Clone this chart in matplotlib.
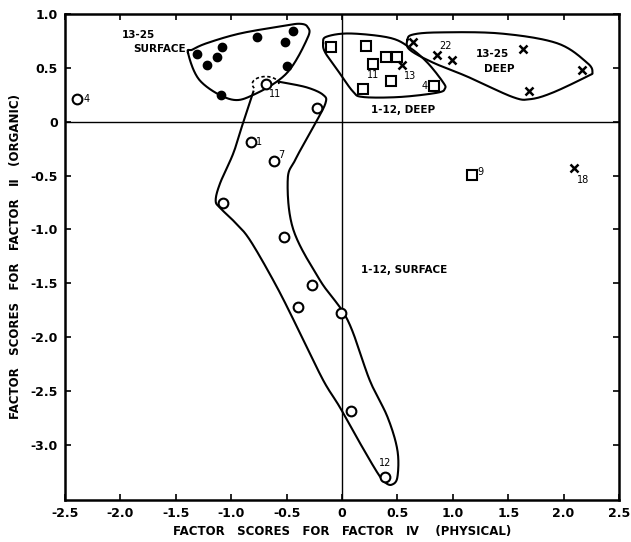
import numpy as np
import matplotlib
matplotlib.use("Agg")
import matplotlib.pyplot as plt
from matplotlib.patches import Arc

# ---- data ----
surf_13_25_x = [-1.31, -1.22, -1.13, -1.08, -0.77, -0.44, -0.51, -0.50, -1.09]
surf_13_25_y = [0.63, 0.53, 0.60, 0.69, 0.79, 0.84, 0.74, 0.52, 0.25]

surf_1_12_x = [-2.39, -0.69, -0.23, -0.82, -0.61, -1.07, -0.52, -0.27, -0.40, -0.01, 0.08, 0.39]
surf_1_12_y = [0.21, 0.35, 0.13, -0.19, -0.36, -0.75, -1.07, -1.52, -1.72, -1.78, -2.69, -3.30]

deep_1_12_x = [-0.10, 0.22, 0.40, 0.50, 0.28, 0.44, 0.19, 0.83, 1.17]
deep_1_12_y = [0.69, 0.70, 0.60, 0.60, 0.54, 0.38, 0.30, 0.33, -0.49]

deep_13_25_x = [0.64, 0.86, 0.99, 1.63, 2.17, 1.69, 0.54, 2.09]
deep_13_25_y = [0.74, 0.62, 0.57, 0.68, 0.48, 0.29, 0.53, -0.43]

# sample numbers written next to some points: (text, x, y, ha, va)
point_labels = [
    ("4", -2.33, 0.21, "left", "center"),
    ("11", -0.66, 0.30, "left", "top"),
    ("1", -0.78, -0.19, "left", "center"),
    ("7", -0.58, -0.31, "left", "center"),
    ("12", 0.39, -3.22, "center", "bottom"),
    ("11", 0.28, 0.48, "center", "top"),
    ("13", 0.56, 0.47, "left", "top"),
    ("4", 0.77, 0.33, "right", "center"),
    ("9", 1.22, -0.47, "left", "center"),
    ("22", 0.88, 0.66, "left", "bottom"),
    ("18", 2.12, -0.49, "left", "top"),
]

# group outlines (hand drawn envelopes in the original)
outline_surf_13_25 = [(-1.39, 0.64), (-1.28, 0.38), (-1.01, 0.21), (-0.80, 0.25),
                      (-0.50, 0.45), (-0.31, 0.78), (-0.31, 0.88), (-0.38, 0.91),
                      (-0.53, 0.89), (-0.92, 0.82), (-1.22, 0.73), (-1.35, 0.67)]
outline_surf_1_12 = [(-0.80, 0.28), (-0.89, 0.00), (-0.98, -0.29), (-1.10, -0.57),
                     (-1.14, -0.73), (-1.10, -0.80), (-0.97, -0.93), (-0.83, -1.10),
                     (-0.59, -1.53), (-0.38, -1.96), (-0.17, -2.40), (-0.02, -2.65),
                     (0.16, -2.98), (0.32, -3.26), (0.39, -3.35), (0.45, -3.37),
                     (0.50, -3.30), (0.50, -3.05), (0.41, -2.74), (0.25, -2.40),
                     (0.05, -1.84), (-0.20, -1.47), (-0.44, -1.00), (-0.49, -0.54),
                     (-0.42, -0.35), (-0.26, -0.05), (-0.15, 0.17), (-0.17, 0.25),
                     (-0.32, 0.32), (-0.56, 0.37)]
outline_deep_1_12 = [(-0.17, 0.73), (-0.14, 0.79), (0.07, 0.82), (0.43, 0.78),
                     (0.61, 0.69), (0.77, 0.55), (0.91, 0.37), (0.93, 0.31),
                     (0.86, 0.27), (0.52, 0.23), (0.19, 0.23), (0.10, 0.28),
                     (-0.02, 0.45), (-0.15, 0.64)]
outline_deep_13_25 = [(0.59, 0.76), (0.64, 0.81), (0.88, 0.83), (1.43, 0.82),
                      (1.94, 0.73), (2.21, 0.55), (2.26, 0.46), (2.21, 0.42),
                      (1.90, 0.27), (1.70, 0.21), (1.54, 0.23), (1.13, 0.42),
                      (0.82, 0.55), (0.61, 0.67)]

x_ticks = [-2.5, -2.0, -1.5, -1.0, -0.5, 0, 0.5, 1.0, 1.5, 2.0, 2.5]
x_tick_labels = ["-2.5", "-2.0", "-1.5", "-1.0", "-0.5", "0", "0.5", "1.0", "1.5", "2.0", "2.5"]
y_ticks = [1.0, 0.5, 0, -0.5, -1.0, -1.5, -2.0, -2.5, -3.0]
y_tick_labels = ["1.0", "0.5", "0", "-0.5", "-1.0", "-1.5", "-2.0", "-2.5", "-3.0"]


def catmull_rom(points, closed=True, n=20):
    pts = np.asarray(points, dtype=float)
    if closed:
        pts = np.vstack([pts[-1], pts, pts[0], pts[1]])
    else:
        pts = np.vstack([pts[0], pts, pts[-1]])
    t = np.linspace(0, 1, n, endpoint=False)[:, None]
    out = []
    for i in range(1, len(pts) - 2):
        p0, p1, p2, p3 = pts[i - 1], pts[i], pts[i + 1], pts[i + 2]
        seg = 0.5 * (2 * p1 + (-p0 + p2) * t
                     + (2 * p0 - 5 * p1 + 4 * p2 - p3) * t ** 2
                     + (-p0 + 3 * p1 - 3 * p2 + p3) * t ** 3)
        out.append(seg)
    out.append(pts[-2][None, :])
    return np.vstack(out)


plt.rcParams["font.family"] = "DejaVu Sans"
fig = plt.figure(figsize=(6.31, 5.42), dpi=100)
ax = fig.add_axes([0.103, 0.078, 0.878, 0.896])

ax.axhline(0, color="black", lw=1.0, zorder=1)
ax.axvline(0, color="black", lw=1.0, zorder=1)

for outline, closed in [(outline_surf_13_25, True), (outline_surf_1_12, False),
                        (outline_deep_1_12, True), (outline_deep_13_25, True)]:
    c = catmull_rom(outline, closed=closed)
    ax.plot(c[:, 0], c[:, 1], color="black", lw=1.5, zorder=2)

ax.add_patch(Arc((-0.69, 0.35), 0.24, 0.14, theta1=0, theta2=200,
                 color="black", lw=1.2, ls=(0, (2, 1.5)), zorder=2))

ax.plot(surf_13_25_x, surf_13_25_y, "o", color="black", ms=6, ls="none", zorder=3)
ax.plot(surf_1_12_x, surf_1_12_y, "o", mfc="white", mec="black", mew=1.5, ms=7,
        ls="none", zorder=3)
ax.plot(deep_1_12_x, deep_1_12_y, "s", mfc="white", mec="black", mew=1.5, ms=7,
        ls="none", zorder=3)
ax.plot(deep_13_25_x, deep_13_25_y, "x", color="black", mew=1.8, ms=6,
        ls="none", zorder=3)

for txt, x, y, ha, va in point_labels:
    ax.text(x, y, txt, fontsize=7, ha=ha, va=va, zorder=4)

lab = dict(fontsize=7.5, fontweight="bold", ha="center", va="center")
ax.text(-1.84, 0.81, "13-25", **lab)
ax.text(-1.65, 0.675, "SURFACE", **lab)
ax.text(1.36, 0.63, "13-25", **lab)
ax.text(1.42, 0.49, "DEEP", **lab)
ax.text(0.55, 0.11, "1-12, DEEP", **lab)
ax.text(0.56, -1.38, "1-12, SURFACE", **lab)

ax.set_xlim(-2.5, 2.5)
ax.set_ylim(-3.51, 1.0)
ax.set_xticks(x_ticks)
ax.set_xticklabels(x_tick_labels, fontsize=9, fontweight="bold")
ax.set_yticks(y_ticks)
ax.set_yticklabels(y_tick_labels, fontsize=9, fontweight="bold")
ax.tick_params(direction="in", length=4, width=1.2, top=True, right=True,
               labeltop=False, labelright=False, pad=5)
for s in ax.spines.values():
    s.set_linewidth(1.8)

ax.set_xlabel("FACTOR   SCORES   FOR   FACTOR   \u2163    (PHYSICAL)",
              fontsize=8.5, fontweight="bold", labelpad=4)
ax.set_ylabel("FACTOR   SCORES   FOR   FACTOR   \u2161   (ORGANIC)",
              fontsize=8.5, fontweight="bold", labelpad=6)

fig.savefig("out.png", dpi=100)
